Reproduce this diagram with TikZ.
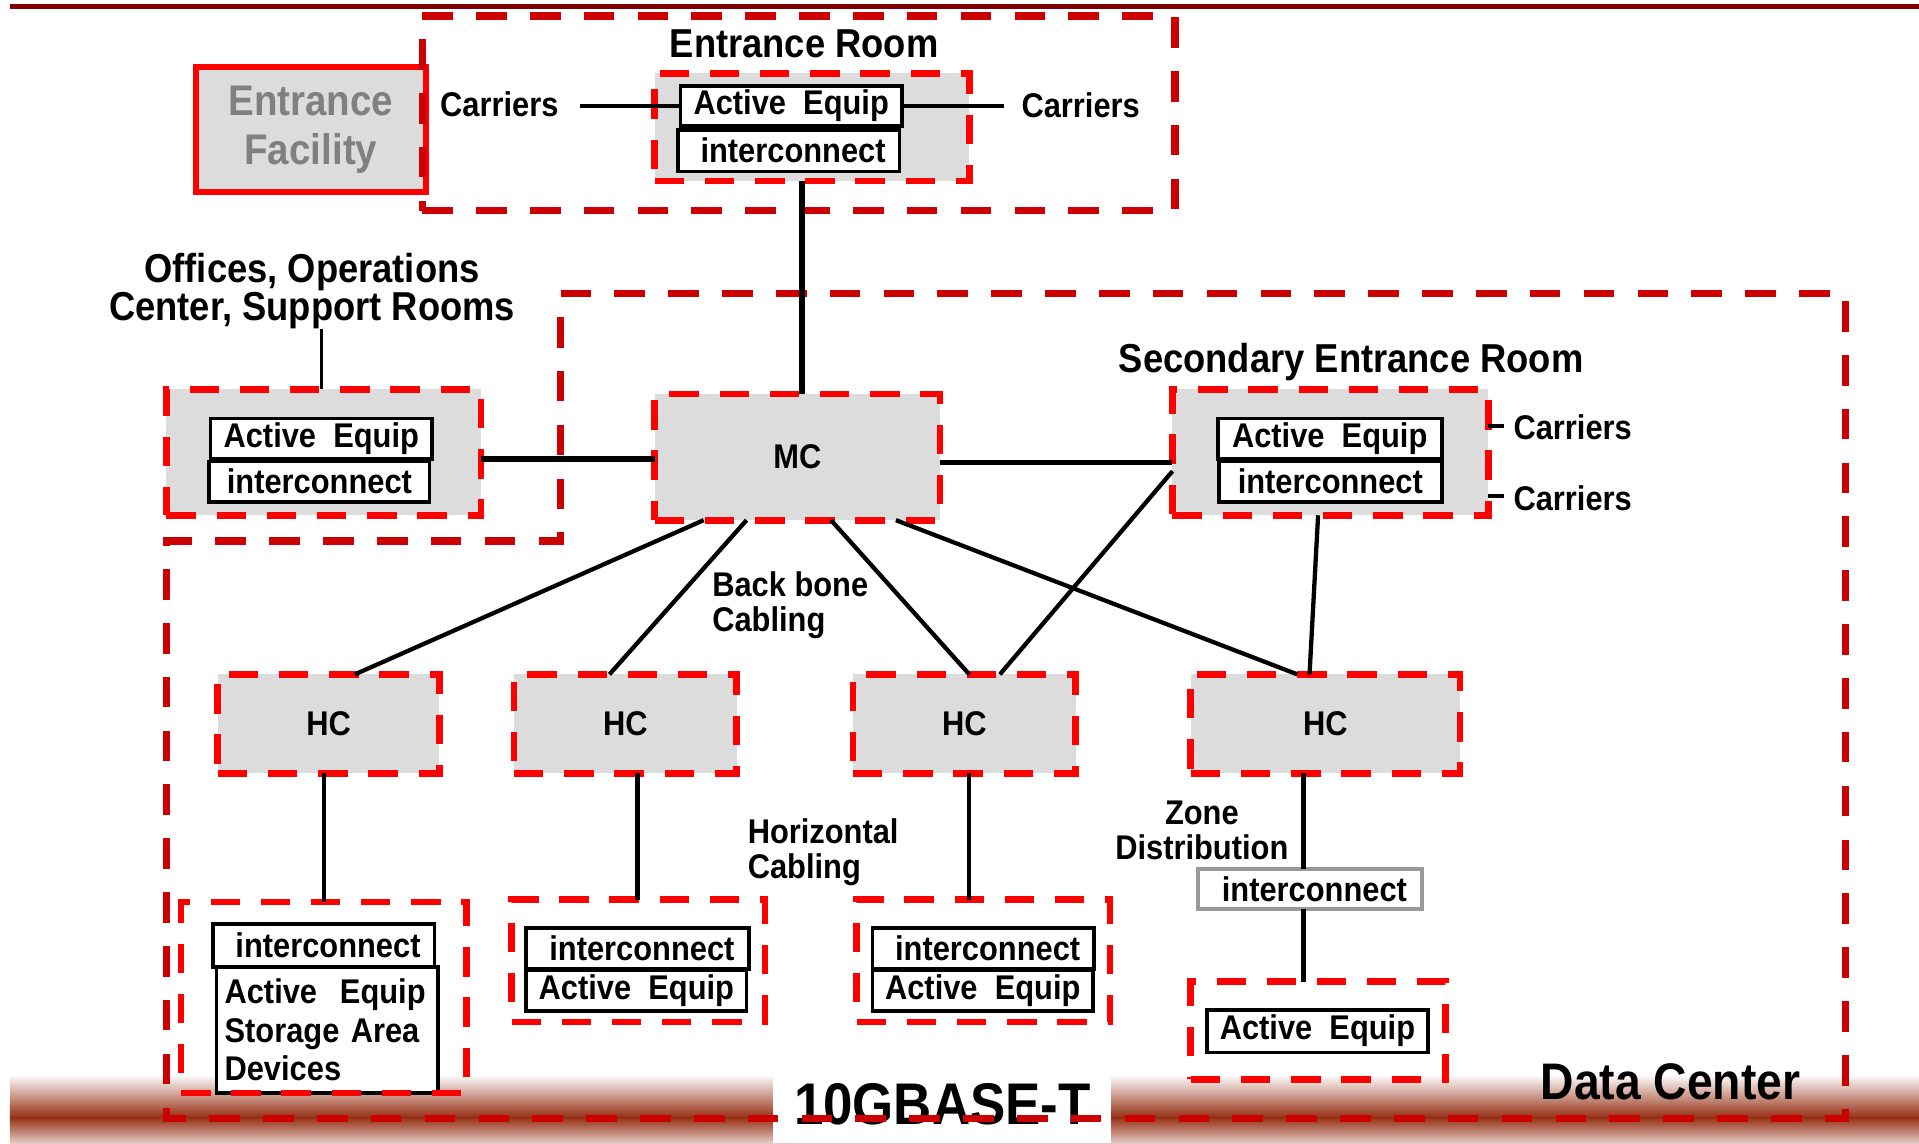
\documentclass[tikz,border=0pt]{standalone}
\usepackage{fontspec}
\setmainfont{Liberation Sans}[FakeStretch=0.9]
\definecolor{zonered}{HTML}{CC0000}
\definecolor{boxred}{HTML}{FF0000}
\definecolor{panelgray}{HTML}{DCDCDC}
\definecolor{topbar}{HTML}{800000}
\definecolor{bandred}{HTML}{963014}
\definecolor{labelgray}{HTML}{808080}
\definecolor{framegray}{HTML}{999999}
\newcommand\txt[2]{\fontsize{#1}{#2}\selectfont\bfseries}
\begin{document}
\begin{tikzpicture}[x=1pt,y=-1pt,
  sz/.style 2 args={minimum width=#1pt, minimum height=#2pt},
  zone/.style={draw=zonered, line width=6pt, dash pattern=on 25pt off 19pt},
  panel/.style={fill=panelgray, draw=boxred, line width=5.5pt, dash pattern=on 24pt off 17pt,
    inner sep=0pt, outer sep=0pt, font=\txt{28}{28}},
  subzone/.style={draw=boxred, line width=5.5pt, dash pattern=on 24pt off 17pt,
    inner sep=0pt, outer sep=0pt},
  eq/.style={draw=black, fill=white, line width=3pt, inner sep=0pt, outer sep=0pt,
    font=\txt{28}{28}},
  lbl/.style={inner sep=0pt, outer sep=0pt, font=\txt{28}{29}},
  title/.style={inner sep=0pt, outer sep=0pt, font=\txt{33}{28}},
  wire/.style={line width=3.5pt},
  heavy/.style={line width=5pt}]
\useasboundingbox (0,0) rectangle (1568,934);

% bottom band with the standard label
\shade[top color=white, bottom color=bandred] (8,878) rectangle (1568,913);
\shade[top color=bandred, bottom color=bandred!25] (8,913) rectangle (1568,934);
\fill[white] (632,878) rectangle (908,934);
\node[inner sep=0pt, font=\txt{48}{48}] (std) at (770,902) {10GBASE-T};

% top rule
\draw[topbar, line width=4pt] (8,5) -- (1568,5);

% entrance facility and entrance room
\node[fill=panelgray, draw=boxred, line width=5pt, sz={188}{102}, inner sep=0pt,
  text=labelgray, align=center, font=\txt{35}{40}] (ef) at (254,106) {Entrance\\Facility};
\node[zone, sz={615}{159}] (erzone) at (652.5,92.5) {};
\node[title] (ertitle) at (657,36) {Entrance Room};
\node[panel, sz={257}{88}] (erin) at (663.5,104) {};
\node[eq, sz={181}{33}] (erAE) at (646.5,86.5) {Active~~Equip};
\node[eq, sz={181}{34}] (erIC) at (644.5,123) {\ interconnect};
\node[lbl] (carL) at (408,85) {Carriers};
\node[lbl] (carR) at (883,86) {Carriers};
\draw[wire] (474,0 |- erAE.west) -- (erAE.west);
\draw[wire] (erAE.east) -- (820,0 |- erAE.east);

% data center outline
\draw[zone] (458,240) -- (1508,240) -- (1508,914) -- (136,914) -- (136,442)
  -- (458,442) -- cycle;
\node[inner sep=0pt, font=\txt{42}{42}] (dc) at (1365,884) {Data Center};

% offices, operations center, support rooms
\node[title, align=center] (offtitle) at (255,238) {Offices, Operations\\Center, Support Rooms};
\node[panel, sz={257}{103}] (off) at (264.5,369.5) {};
\node[eq, sz={181}{33}] (offAE) at (262.5,358.5) {Active~~Equip};
\node[eq, sz={180}{33}] (offIC) at (261,393.5) {interconnect};
\draw[line width=2.5pt] (263,0 |- offtitle.south) -- (263,0 |- off.north);

% main cross-connect
\node[panel, sz={233}{103}] (mc) at (651.5,373.5) {MC};
\draw[heavy] (erin.south -| 655,0) -- (655,0 |- mc.north);
\draw[heavy] (off.east |- 0,375) -- (mc.west |- 0,375);

% secondary entrance room
\node[title] (sectitle) at (1104,296) {Secondary Entrance Room};
\node[panel, sz={258}{103}] (sec) at (1087,369.5) {};
\node[eq, sz={183}{33}] (secAE) at (1086.5,358.5) {Active~~Equip};
\node[eq, sz={182}{33}] (secIC) at (1087,393.5) {interconnect};
\node[lbl] (secC1) at (1285,349) {Carriers};
\node[lbl] (secC2) at (1285,407) {Carriers};
\draw[line width=3pt] (sec.east |- 0,348) -- (1229,348);
\draw[line width=3pt] (sec.east |- 0,405) -- (1229,405);
\draw[wire] (mc.east |- 0,378) -- (sec.west |- 0,378);

% horizontal cross-connects
\node[panel, sz={181}{81}] (hc1) at (268.5,591.5) {HC};
\node[panel, sz={182}{81}] (hc2) at (511,591.5) {HC};
\node[panel, sz={182}{81}] (hc3) at (788,591.5) {HC};
\node[panel, sz={220}{81}] (hc4) at (1083,591.5) {HC};

% backbone cabling
\draw[wire] (575,0 |- mc.south) -- (290,0 |- hc1.north);
\draw[wire] (610,0 |- mc.south) -- (498,0 |- hc2.north);
\draw[wire] (679,0 |- mc.south) -- (792,0 |- hc3.north);
\draw[wire] (732,0 |- mc.south) -- (1060,0 |- hc4.north);
\draw[wire] (sec.west |- 0,385) -- (817,0 |- hc3.north);
\draw[wire] (1077,0 |- sec.south) -- (1070,0 |- hc4.north);
\node[lbl, anchor=west, align=left] (bb) at (582,494.5) {Back bone\\Cabling};

% equipment areas
\node[eq, sz={181}{35}] (b1IC) at (264.5,772.5) {\ interconnect};
\node[eq, sz={181}{103}, align=left, font=\txt{28}{31.5}, text width=168pt]
  (b1AE) at (267.5,841.5) {Active~~Equip\\Storage~Area\\Devices};
\node[subzone, sz={233}{156}] (b1) at (264.5,815) {};

\node[eq, sz={182}{34}] (b2IC) at (521,775) {\ interconnect};
\node[eq, sz={180}{33}] (b2AE) at (520,809.5) {Active~~Equip};
\node[subzone, sz={207}{100}] (b2) at (521.5,785) {};

\node[eq, sz={181}{34}] (b3IC) at (803.5,775) {\ interconnect};
\node[eq, sz={180}{33}] (b3AE) at (803,809.5) {Active~~Equip};
\node[subzone, sz={207}{100}] (b3) at (803.5,785) {};

\node[eq, draw=framegray, sz={183}{33}] (zic) at (1070.5,726.5) {\ interconnect};
\node[eq, sz={181}{35}] (b4AE) at (1076.5,842.5) {Active~~Equip};
\node[subzone, sz={208}{80}] (b4) at (1077,842) {};

% horizontal cabling
\draw[wire] (265,0 |- hc1.south) -- (265,0 |- b1.north);
\draw[wire] (521,0 |- hc2.south) -- (521,0 |- b2.north);
\draw[wire] (792,0 |- hc3.south) -- (792,0 |- b3.north);
\draw[wire] (1065,0 |- hc4.south) -- (1065,0 |- zic.north);
\draw[wire] (1065,0 |- zic.south) -- (1065,0 |- b4.north);
\node[lbl, anchor=west, align=left] (hz) at (611,696.5) {Horizontal\\Cabling};
\node[lbl, align=center] (zd) at (982,678.5) {Zone\\Distribution};
\end{tikzpicture}
\end{document}
